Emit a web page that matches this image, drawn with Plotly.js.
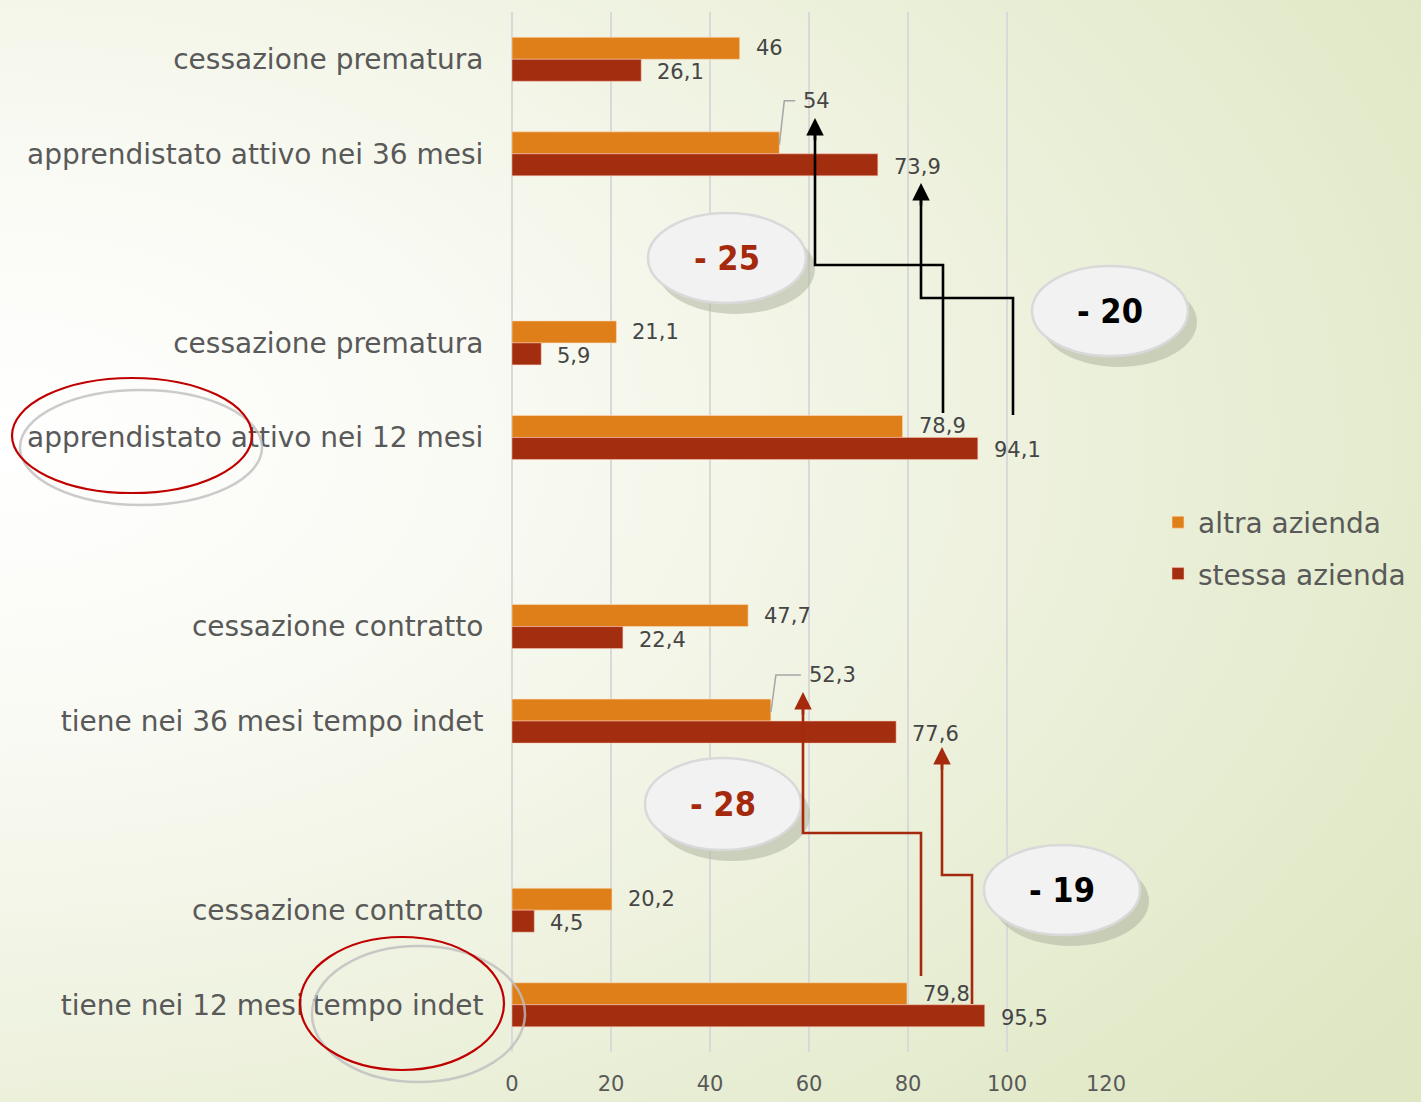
<!DOCTYPE html>
<html>
<head>
<meta charset="utf-8">
<script src="https://cdn.plot.ly/plotly-3.0.1.min.js"></script>
<style>
  html, body { margin: 0; padding: 0; }
  body {
    width: 1421px; height: 1102px; overflow: hidden;
    background: radial-gradient(ellipse 120% 95% at 0% 40%, #ffffff 0%, #f9faf3 28%, #eef2df 58%, #e2eaca 88%, #dee6c3 100%);
  }
  #chart { width: 1421px; height: 1102px; }
</style>
</head>
<body>
<div id="chart"></div>
<script>
// ---- data ----
const categories = [
  'cessazione prematura',
  'apprendistato attivo nei 36 mesi',
  '',
  'cessazione prematura',
  'apprendistato attivo nei 12 mesi',
  '',
  'cessazione contratto',
  'tiene nei 36 mesi tempo indet',
  '',
  'cessazione contratto',
  'tiene nei 12 mesi tempo indet'
];
const altraAzienda  = [46, 54, null, 21.1, 78.9, null, 47.7, 52.3, null, 20.2, 79.8];
const stessaAzienda = [26.1, 73.9, null, 5.9, 94.1, null, 22.4, 77.6, null, 4.5, 95.5];
const seriesNames = ['altra azienda', 'stessa azienda'];
const xTicks = [0, 20, 40, 60, 80, 100, 120];
const differences = ['- 25', '- 20', '- 28', '- 19'];

// ---- layout helpers ----
const L = 512, R = 1106, T = 12, B = 1052;
const PX = x => (x - L) / (R - L);
const PY = y => (B - y) / (B - T);
const UNIT = (R - L) / 120; // px per x unit

const ORANGE = '#df7f1a', RED = '#a32d0f', DARKRED = '#a52a0d';
const FONT = 'DejaVu Sans';
const TXT = '#595959';
const LBL = '#454545';

const slots = categories.map((c, i) => i);
const fmt = v => String(v).replace('.', ',');

const traces = [
  { type: 'bar', orientation: 'h', name: seriesNames[0], y: slots, x: altraAzienda,
    marker: { color: ORANGE, line: { color: 'rgba(255,220,190,0.6)', width: 1 } }, legendgroup: 'a' },
  { type: 'bar', orientation: 'h', name: seriesNames[1], y: slots, x: stessaAzienda,
    marker: { color: RED, line: { color: 'rgba(255,200,180,0.5)', width: 1 } }, legendgroup: 'b' }
];

const annotations = [];
const shapes = [];

// value labels (two orange labels moved up with a bent leader line)
const leader = { 1: { dx: 38, dy: -42 }, 7: { dx: 52, dy: -35 } };
slots.forEach(i => {
  const rowPx = T + (i + 0.5) * (B - T) / categories.length;
  if (altraAzienda[i] != null) {
    if (leader[i]) {
      const endPx = L + altraAzienda[i] * UNIT;
      const barTop = rowPx - 11;
      const ty = barTop + leader[i].dy;
      const tx = endPx + leader[i].dx;
      shapes.push({ type: 'path', xref: 'paper', yref: 'paper', layer: 'above',
        path: 'M' + PX(endPx) + ',' + PY(barTop + 2) + ' L' + PX(endPx + 5) + ',' + PY(ty) +
              ' L' + PX(tx - 22) + ',' + PY(ty),
        line: { color: '#a6a6a6', width: 1.5 } });
      annotations.push({ x: altraAzienda[i], y: i, xref: 'x', yref: 'y',
        yshift: -leader[i].dy + 11, xshift: leader[i].dx - 16, xanchor: 'left', yanchor: 'middle',
        text: fmt(altraAzienda[i]), showarrow: false,
        font: { family: FONT, size: 21, color: LBL } });
    } else {
      annotations.push({ x: altraAzienda[i], y: i, xref: 'x', yref: 'y', yshift: 11,
        xanchor: 'left', yanchor: 'middle', xshift: 14, text: fmt(altraAzienda[i]), showarrow: false,
        font: { family: FONT, size: 21, color: LBL } });
    }
  }
  if (stessaAzienda[i] != null) {
    annotations.push({ x: stessaAzienda[i], y: i, xref: 'x', yref: 'y', yshift: -13,
      xanchor: 'left', yanchor: 'middle', xshift: 14, text: fmt(stessaAzienda[i]), showarrow: false,
      font: { family: FONT, size: 21, color: LBL } });
  }
});

// difference bubbles
const bubbles = [
  { cx: 727, cy: 258, rx: 79, ry: 45, color: DARKRED },
  { cx: 1110, cy: 311, rx: 78, ry: 45, color: '#000000' },
  { cx: 723, cy: 804, rx: 78, ry: 46, color: DARKRED },
  { cx: 1062, cy: 890, rx: 78, ry: 45, color: '#000000' }
];
bubbles.forEach((b, k) => {
  shapes.push({ type: 'circle', xref: 'paper', yref: 'paper', layer: 'above',
    x0: PX(b.cx - b.rx + 9), x1: PX(b.cx + b.rx + 9), y0: PY(b.cy + b.ry + 11), y1: PY(b.cy - b.ry + 11),
    fillcolor: 'rgba(175,180,160,0.55)', line: { width: 0 } });
  shapes.push({ type: 'circle', xref: 'paper', yref: 'paper', layer: 'above',
    x0: PX(b.cx - b.rx), x1: PX(b.cx + b.rx), y0: PY(b.cy + b.ry), y1: PY(b.cy - b.ry),
    fillcolor: '#f2f2f2', line: { color: '#d9d9d9', width: 2.5 } });
  annotations.push({ xref: 'paper', yref: 'paper', x: PX(b.cx), y: PY(b.cy),
    xanchor: 'center', yanchor: 'middle', showarrow: false,
    text: '<b>' + differences[k] + '</b>',
    font: { family: 'DejaVu Sans Condensed', size: 34, color: b.color } });
});

// connectors
const connectors = [
  { pts: [[943, 413], [943, 265], [815, 265]], tip: [815, 118], color: '#000000' },
  { pts: [[1013, 415], [1013, 298], [921, 298]], tip: [921, 183], color: '#000000' },
  { pts: [[921, 976], [921, 833], [803, 833]], tip: [803, 692], color: '#a52a0d' },
  { pts: [[972, 1004], [972, 875], [942, 875]], tip: [942, 747], color: '#a52a0d' }
];
connectors.forEach(c => {
  const path = c.pts.map((p, j) => (j ? 'L' : 'M') + PX(p[0]) + ',' + PY(p[1])).join(' ')
    + ' L' + PX(c.tip[0]) + ',' + PY(c.tip[1] + 16);
  shapes.push({ type: 'path', xref: 'paper', yref: 'paper', layer: 'above', path: path,
    line: { color: c.color, width: 2.6 } });
  annotations.push({ xref: 'paper', yref: 'paper', x: PX(c.tip[0]), y: PY(c.tip[1]),
    ax: 0, ay: 24, text: '', showarrow: true, arrowhead: 2, arrowsize: 1.35,
    arrowwidth: 2.6, arrowcolor: c.color, standoff: 0 });
});

// hand-drawn style ellipses around labels
const rings = [
  { gray: [20, 390, 262, 505], red: [12, 378, 252, 493] },
  { gray: [312, 946, 525, 1082], red: [300, 937, 504, 1070] }
];
rings.forEach(r => {
  shapes.push({ type: 'circle', xref: 'paper', yref: 'paper', layer: 'above',
    x0: PX(r.gray[0]), x1: PX(r.gray[2]), y0: PY(r.gray[3]), y1: PY(r.gray[1]),
    line: { color: 'rgba(190,190,190,0.8)', width: 2.5 } });
  shapes.push({ type: 'circle', xref: 'paper', yref: 'paper', layer: 'above',
    x0: PX(r.red[0]), x1: PX(r.red[2]), y0: PY(r.red[3]), y1: PY(r.red[1]),
    line: { color: '#c00000', width: 2.2 } });
});

const layout = {
  width: 1421, height: 1102,
  margin: { l: L, r: 1421 - R, t: T, b: 1102 - B, autoexpand: false },
  paper_bgcolor: 'rgba(0,0,0,0)', plot_bgcolor: 'rgba(0,0,0,0)',
  barmode: 'group', bargap: 0.535, bargroupgap: 0,
  showlegend: true,
  legend: { x: PX(1158), y: PY(548), xanchor: 'left', yanchor: 'middle',
    font: { family: FONT, size: 28, color: TXT }, traceorder: 'grouped',
    tracegroupgap: 12, bgcolor: 'rgba(0,0,0,0)', itemwidth: 30 },
  xaxis: { range: [0, 120], tickvals: xTicks, ticktext: xTicks.map(String),
    showgrid: true, gridcolor: '#d9d9d9', gridwidth: 2, zeroline: true,
    zerolinecolor: '#d9d9d9', zerolinewidth: 2, showline: false,
    ticks: 'outside', ticklen: 13, tickcolor: 'rgba(0,0,0,0)',
    tickfont: { family: FONT, size: 21, color: TXT }, fixedrange: true },
  yaxis: { range: [10.5, -0.5], tickvals: slots, ticktext: categories,
    showgrid: false, zeroline: false, showline: false,
    ticks: 'outside', ticklen: 22, tickcolor: 'rgba(0,0,0,0)',
    tickfont: { family: FONT, size: 28, color: TXT }, fixedrange: true },
  shapes: shapes,
  annotations: annotations,
  hovermode: false
};

Plotly.newPlot('chart', traces, layout, { displayModeBar: false, staticPlot: true });
</script>
</body>
</html>
